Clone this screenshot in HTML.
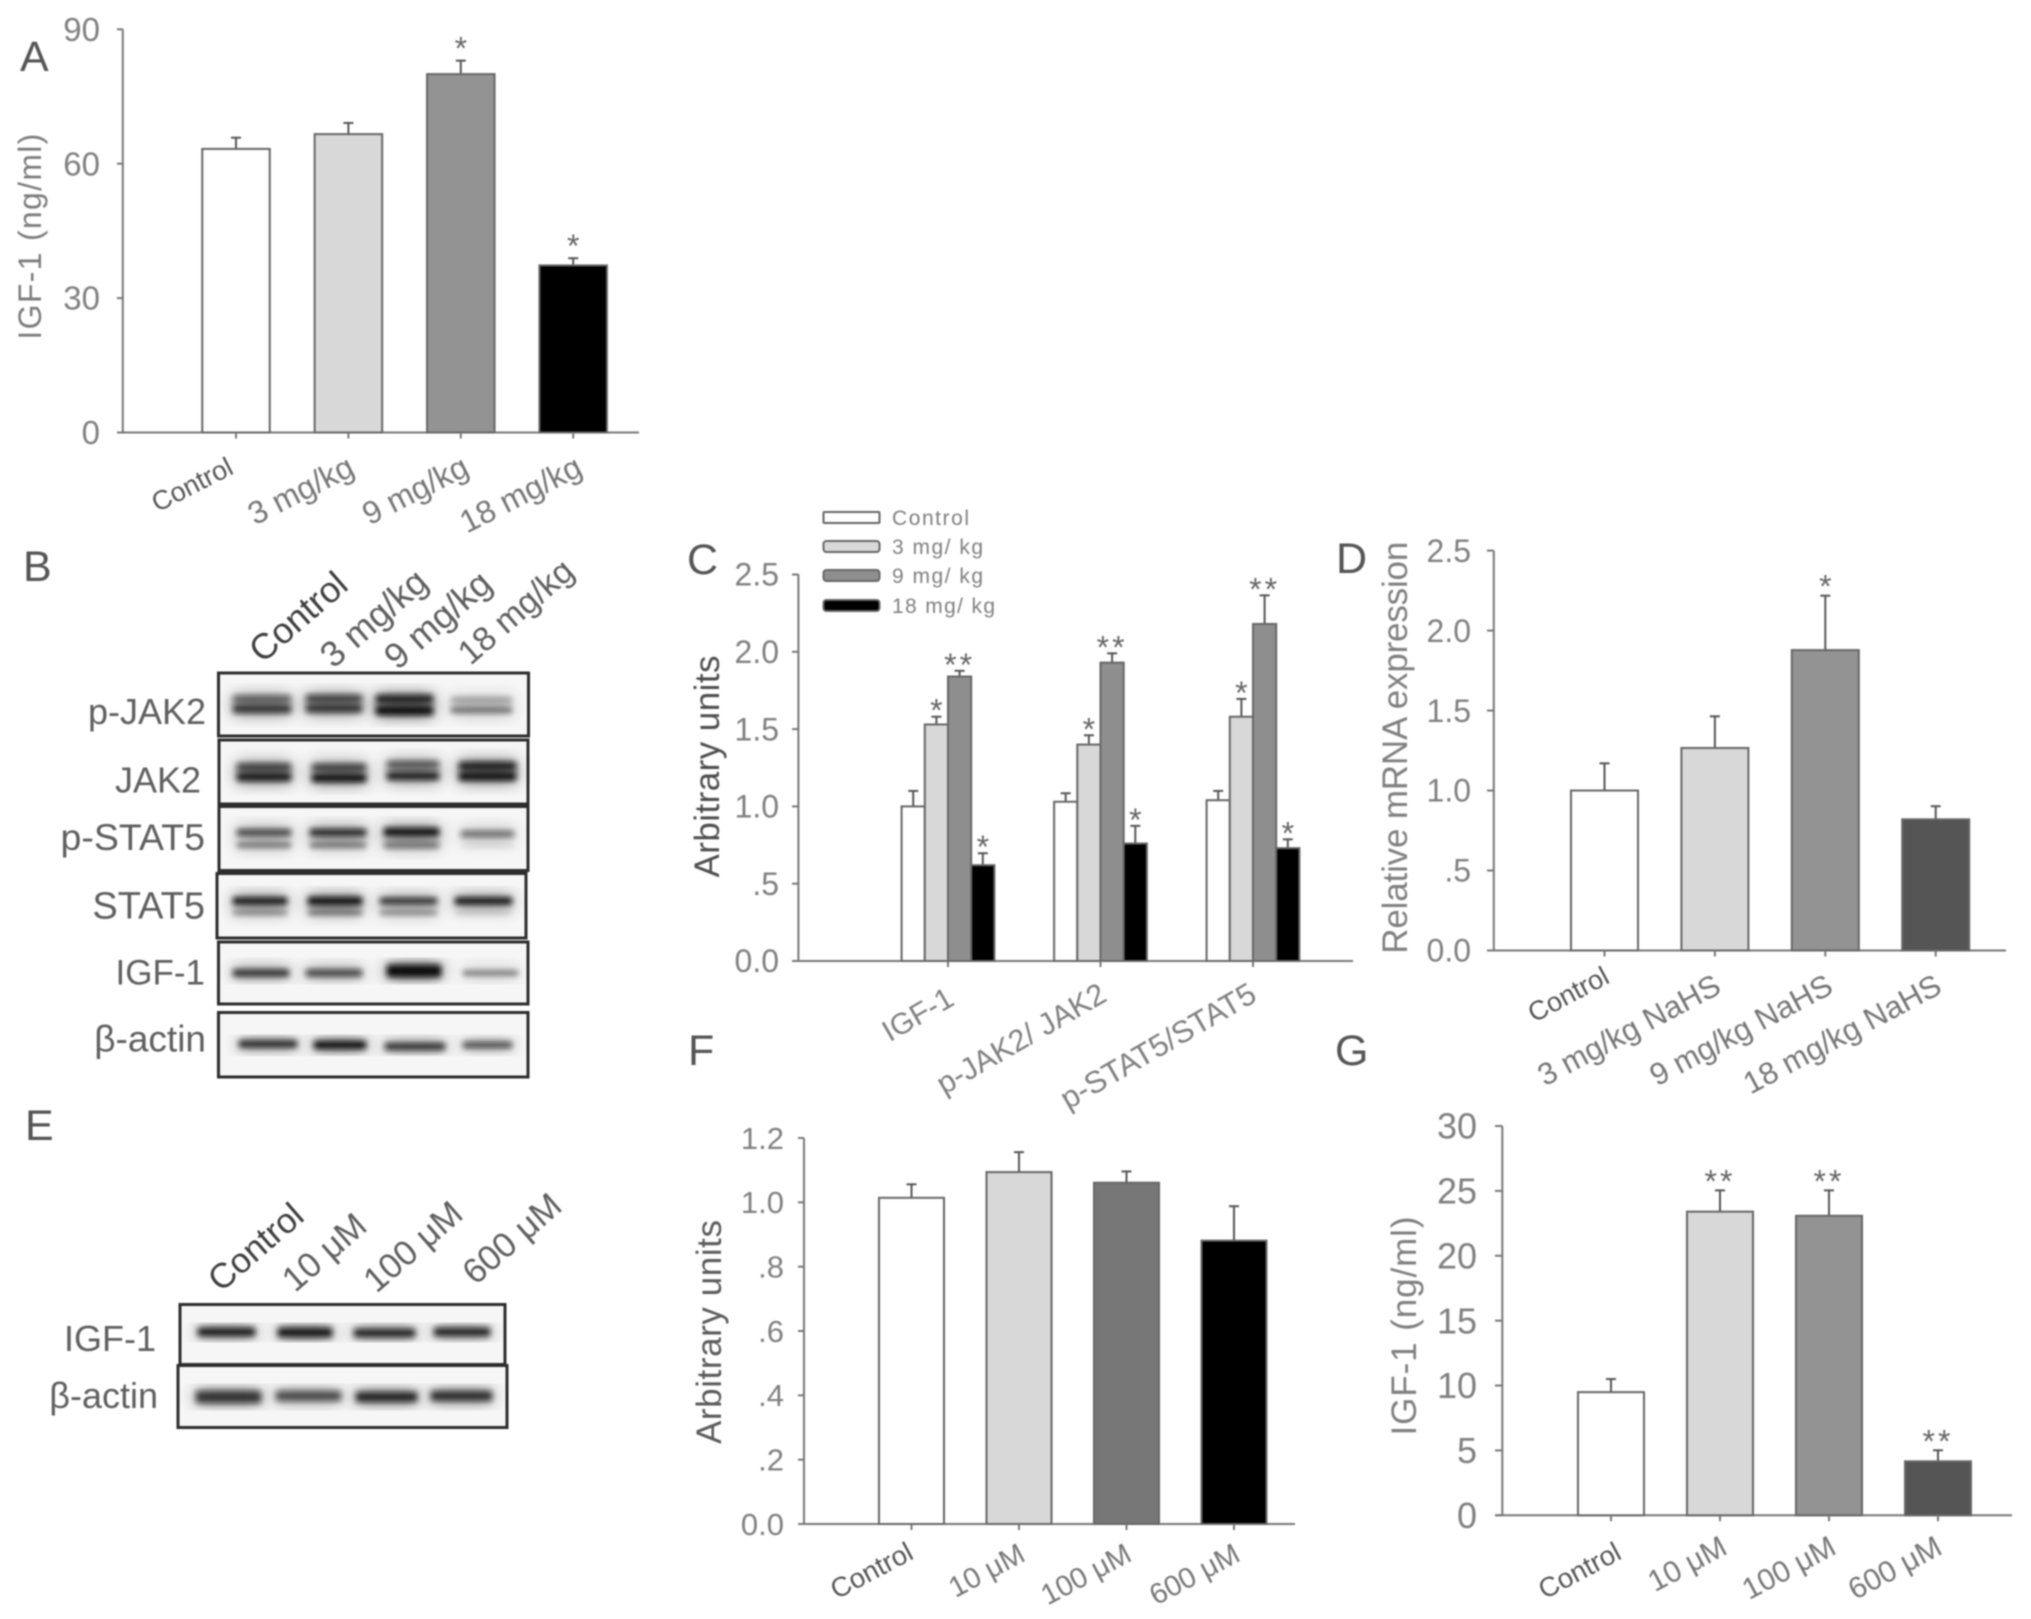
<!DOCTYPE html>
<html lang="en">
<head>
<meta charset="utf-8">
<title>IGF-1 and JAK2/STAT5 multi-panel figure</title>
<style>
html,body{margin:0;padding:0;background:#fff;}
#figure{display:block;width:2031px;height:1619px;font-family:"Liberation Sans",sans-serif;filter:blur(.8px);}
.letter{font-size:43px;fill:#555;}
.ttl{fill:#7d7d7d;}
.blot-label{font-size:36px;fill:#5f5f5f;}
.frame{fill:#f6f6f6;stroke:#2c2c2c;stroke-width:3;}
.legend-text{font-size:21px;fill:#808080;}
.legend-swatch{stroke:#666;stroke-width:2;}
.b{fill:#0c0c0c;}
</style>
</head>
<body>
<svg id="figure" xmlns="http://www.w3.org/2000/svg" width="2031" height="1619" viewBox="0 0 2031 1619">
<defs>
<filter id="band-blur" x="-20%" y="-60%" width="140%" height="220%">
<feGaussianBlur in="SourceGraphic" stdDeviation="8" result="wide"/>
<feComponentTransfer in="wide" result="halo"><feFuncA type="linear" slope=".8"/></feComponentTransfer>
<feGaussianBlur in="SourceGraphic" stdDeviation="3" result="core"/>
<feMerge><feMergeNode in="halo"/><feMergeNode in="core"/></feMerge>
</filter>
</defs>
<rect width="2031" height="1619" fill="#fff"/>

<text class="letter" x="20" y="71">A</text>
<text class="letter" x="23" y="581">B</text>
<text class="letter" x="687" y="574">C</text>
<text class="letter" x="1336" y="573">D</text>
<text class="letter" x="25" y="1140">E</text>
<text class="letter" x="688" y="1065">F</text>
<text class="letter" x="1335" y="1065">G</text>

<g id="panel-a">
<text class="ttl" font-size="32" text-anchor="middle" textLength="206" transform="translate(41 236.6) rotate(-90)">IGF-1  (ng/ml)</text>
</g>
<g id="panel-c">
<text class="ttl" style="fill:#4f4f4f" font-size="35" text-anchor="middle" textLength="222" transform="translate(719 766.5) rotate(-90)">Arbitrary units</text>
<g>
<rect class="legend-swatch" x="823.5" y="512" width="56" height="11" rx="1" fill="#fff"/>
<text class="legend-text" x="892" y="525" textLength="77">Control</text>
<rect class="legend-swatch" x="823.5" y="541" width="56" height="11" rx="3" fill="#d8d8d8"/>
<text class="legend-text" x="892" y="554" textLength="91">3 mg/ kg</text>
<rect class="legend-swatch" x="823.5" y="570" width="56" height="11" rx="3" fill="#8e8e8e"/>
<text class="legend-text" x="892" y="583" textLength="91">9 mg/ kg</text>
<rect class="legend-swatch" x="823.5" y="600" width="56" height="11" rx="3" fill="#000"/>
<text class="legend-text" x="892" y="613" textLength="103">18 mg/ kg</text>
</g>
</g>
<g id="panel-d">
<text class="ttl" style="fill:#808080" font-size="35" text-anchor="middle" textLength="412" transform="translate(1407 747.7) rotate(-90)">Relative mRNA expression</text>
</g>
<g id="panel-f">
<text class="ttl" style="fill:#5c5c5c" font-size="35" text-anchor="middle" textLength="224" transform="translate(721 1332) rotate(-90)">Arbitrary units</text>
</g>
<g id="panel-g">
<text class="ttl" style="fill:#808080" font-size="35" text-anchor="middle" textLength="219" transform="translate(1416 1326) rotate(-90)">IGF-1  (ng/ml)</text>
</g>

<g>
<text font-size="36" fill="#3f3f3f" text-anchor="end" transform="translate(350 588) rotate(-41)">Control</text>
<text font-size="36" fill="#5f5f5f" text-anchor="end" transform="translate(430 585.4) rotate(-41)">3 mg/kg</text>
<text font-size="36" fill="#5f5f5f" text-anchor="end" transform="translate(494 587) rotate(-41)">9 mg/kg</text>
<text font-size="34" fill="#5f5f5f" text-anchor="end" transform="translate(576 574.4) rotate(-41)">18 mg/kg</text>

<text class="blot-label" x="206" y="724" text-anchor="end">p-JAK2</text>
<text class="blot-label" x="201" y="792.5" text-anchor="end">JAK2</text>
<text class="blot-label" style="font-size:37.5px" x="205" y="850" text-anchor="end">p-STAT5</text>
<text class="blot-label" style="font-size:38px" x="205" y="918.6" text-anchor="end">STAT5</text>
<text class="blot-label" style="font-size:35px" x="205" y="984.6" text-anchor="end">IGF-1</text>
<text class="blot-label" style="font-size:37px" x="206" y="1051.4" text-anchor="end">β-actin</text>

<rect class="frame" x="218.5" y="673" width="310" height="63"/>
<rect class="frame" x="219" y="740" width="309" height="64"/>
<rect class="frame" x="219" y="806.5" width="309" height="64"/>
<rect class="frame" x="217" y="873.5" width="309" height="64.5"/>
<rect class="frame" x="218.5" y="942" width="309.5" height="62"/>
<rect class="frame" x="218.5" y="1012.5" width="309.5" height="64.5"/>

<g filter="url(#band-blur)">
<rect class="b" x="233" y="695.5" width="58" height="7" opacity=".6"/>
<rect class="b" x="233" y="705" width="58" height="8" opacity=".8"/>
<rect class="b" x="306" y="695" width="56" height="7" opacity=".75"/>
<rect class="b" x="306" y="704.5" width="56" height="8" opacity=".8"/>
<rect class="b" x="376" y="695" width="57" height="8" opacity=".9"/>
<rect class="b" x="376" y="706" width="57" height="9" opacity="1"/>
<rect class="b" x="451" y="697" width="61" height="6" opacity=".3"/>
<rect class="b" x="451" y="707" width="61" height="6" opacity=".5"/>
</g>
<g filter="url(#band-blur)">
<rect class="b" x="237" y="763.5" width="54" height="7" opacity=".75"/>
<rect class="b" x="237" y="773" width="54" height="8" opacity=".95"/>
<rect class="b" x="312" y="764" width="54" height="7" opacity=".75"/>
<rect class="b" x="312" y="774" width="54" height="8" opacity="1"/>
<rect class="b" x="387" y="761" width="52" height="7" opacity=".65"/>
<rect class="b" x="387" y="772" width="52" height="8" opacity=".9"/>
<rect class="b" x="459" y="762" width="57" height="8" opacity=".9"/>
<rect class="b" x="459" y="772.5" width="57" height="8" opacity="1"/>
</g>
<g filter="url(#band-blur)">
<rect class="b" x="237" y="829.5" width="54" height="6" opacity=".8"/>
<rect class="b" x="237" y="842" width="54" height="6" opacity=".45"/>
<rect class="b" x="310" y="829" width="56" height="7" opacity=".9"/>
<rect class="b" x="310" y="842" width="56" height="6" opacity=".45"/>
<rect class="b" x="384" y="828" width="55" height="8" opacity="1"/>
<rect class="b" x="384" y="842" width="55" height="6" opacity=".55"/>
<rect class="b" x="461" y="831" width="53" height="6" opacity=".6"/>
<rect class="b" x="461" y="843" width="53" height="5" opacity=".08"/>
</g>
<g filter="url(#band-blur)">
<rect class="b" x="233" y="897.5" width="54" height="7" opacity="1"/>
<rect class="b" x="233" y="910" width="54" height="5" opacity=".4"/>
<rect class="b" x="308" y="897" width="54" height="8" opacity="1"/>
<rect class="b" x="308" y="910" width="54" height="5" opacity=".5"/>
<rect class="b" x="380" y="898" width="57" height="6" opacity=".9"/>
<rect class="b" x="380" y="910" width="57" height="5" opacity=".4"/>
<rect class="b" x="455" y="897.5" width="57" height="7" opacity="1"/>
<rect class="b" x="455" y="910" width="57" height="5" opacity=".12"/>
</g>
<g filter="url(#band-blur)">
<rect class="b" x="233" y="969.5" width="56" height="7" opacity=".85"/>
<rect class="b" x="306" y="969.5" width="56" height="7" opacity=".75"/>
<rect class="b" x="387" y="965" width="54" height="12" opacity="1"/>
<rect class="b" x="463" y="970.5" width="55" height="5" opacity=".5"/>
</g>
<g filter="url(#band-blur)">
<rect class="b" x="239" y="1040.5" width="58" height="7" opacity=".9"/>
<rect class="b" x="314" y="1041" width="52" height="8" opacity="1"/>
<rect class="b" x="385" y="1043" width="60" height="7" opacity=".85"/>
<rect class="b" x="463" y="1042" width="49" height="6" opacity=".75"/>
</g>
</g>

<g>
<text font-size="35" fill="#3f3f3f" text-anchor="end" transform="translate(306 1219) rotate(-41)">Control</text>
<text font-size="35" fill="#5f5f5f" text-anchor="end" transform="translate(369 1229) rotate(-41)">10 μM</text>
<text font-size="35" fill="#5f5f5f" text-anchor="end" transform="translate(465 1217) rotate(-41)">100 μM</text>
<text font-size="35" fill="#5f5f5f" text-anchor="end" transform="translate(564 1209) rotate(-41)">600 μM</text>
<text class="blot-label" x="156" y="1351" text-anchor="end">IGF-1</text>
<text class="blot-label" x="158" y="1408" text-anchor="end">β-actin</text>
<rect class="frame" x="180" y="1304.5" width="325" height="60"/>
<rect class="frame" x="178" y="1365.5" width="329" height="62"/>
<g filter="url(#band-blur)">
<rect class="b" x="198" y="1328" width="57" height="8" opacity=".95"/>
<rect class="b" x="278" y="1328" width="54" height="9" opacity=".95"/>
<rect class="b" x="354" y="1329" width="61" height="8" opacity=".9"/>
<rect class="b" x="434" y="1328" width="56" height="8" opacity=".9"/>
</g>
<g filter="url(#band-blur)">
<rect class="b" x="196" y="1391" width="65" height="12" opacity=".75"/>
<rect class="b" x="276" y="1391" width="65" height="10" opacity=".65"/>
<rect class="b" x="356" y="1392" width="61" height="10" opacity=".85"/>
<rect class="b" x="431" y="1391" width="61" height="10" opacity=".8"/>
</g>
</g>
</svg>

<script>
// ---- Panel A data ----
const aCategories = ['Control', '3 mg/kg', '9 mg/kg', '18 mg/kg'];
const aValues = [63.3, 66.6, 80.0, 37.3];
const aErrorTops = [65.8, 69.1, 83.0, 38.9];
const aStars = ['', '', '*', '*'];
const aTickValues = [0, 30, 60, 90];
const aTickLabels = ['0', '30', '60', '90'];

// ---- Panel C data ----
const cCategories = ['IGF-1', 'p-JAK2/ JAK2', 'p-STAT5/STAT5'];
const cSeriesNames = ['Control', '3 mg/kg', '9 mg/kg', '18 mg/kg'];
const cControl = [1.00, 1.03, 1.04];
const c3mg = [1.53, 1.40, 1.58];
const c9mg = [1.84, 1.93, 2.18];
const c18mg = [0.62, 0.76, 0.73];
const cControlErrTops = [1.10, 1.085, 1.10];
const c3mgErrTops = [1.58, 1.46, 1.695];
const c9mgErrTops = [1.877, 1.99, 2.365];
const c18mgErrTops = [0.697, 0.874, 0.787];
const c3mgStars = ['*', '*', '*'];
const c9mgStars = ['**', '**', '**'];
const c18mgStars = ['*', '*', '*'];
const cTickValues = [0, 0.5, 1.0, 1.5, 2.0, 2.5];
const cTickLabels = ['0.0', '.5', '1.0', '1.5', '2.0', '2.5'];

// ---- Panel D data ----
const dCategories = ['Control', '3 mg/kg NaHS', '9 mg/kg NaHS', '18 mg/kg NaHS'];
const dValues = [1.00, 1.266, 1.878, 0.82];
const dErrorTops = [1.17, 1.464, 2.218, 0.902];
const dStars = ['', '', '*', ''];
const dTickValues = [0, 0.5, 1.0, 1.5, 2.0, 2.5];
const dTickLabels = ['0.0', '.5', '1.0', '1.5', '2.0', '2.5'];

// ---- Panel F data ----
const fCategories = ['Control', '10 μM', '100 μM', '600 μM'];
const fValues = [1.014, 1.094, 1.061, 0.881];
const fErrorTops = [1.056, 1.156, 1.096, 0.988];
const fStars = ['', '', '', ''];
const fTickValues = [0, 0.2, 0.4, 0.6, 0.8, 1.0, 1.2];
const fTickLabels = ['0.0', '.2', '.4', '.6', '.8', '1.0', '1.2'];

// ---- Panel G data ----
const gCategories = ['Control', '10 μM', '100 μM', '600 μM'];
const gValues = [9.49, 23.4, 23.08, 4.16];
const gErrorTops = [10.5, 25.04, 25.04, 5.01];
const gStars = ['', '**', '**', '**'];
const gTickValues = [0, 5, 10, 15, 20, 25, 30];
const gTickLabels = ['0', '5', '10', '15', '20', '25', '30'];

const SVG_NS = 'http://www.w3.org/2000/svg';
function el(parent, tag, attrs, text) {
  const n = document.createElementNS(SVG_NS, tag);
  for (const k in attrs) n.setAttribute(k, attrs[k]);
  if (text !== undefined) n.textContent = text;
  parent.appendChild(n);
  return n;
}
const AXIS = '#777';

function drawAxes(g, L, tickValues, tickLabels) {
  const y = v => L.baseY - v * (L.baseY - L.topY) / L.yMax;
  const yLine = el(g, 'line', {x1: L.axisX, x2: L.axisX, y1: L.topY, y2: L.baseY, stroke: AXIS, 'stroke-width': 2});
  
  
  const xLine = el(g, 'line', {x1: L.tickLeft, x2: L.xEnd, y1: L.baseY, y2: L.baseY, stroke: AXIS, 'stroke-width': 2});
  
  
  tickValues.forEach((v, i) => {
    const t = el(g, 'line', {x1: L.tickLeft, x2: L.axisX, y1: y(v), y2: y(v), stroke: AXIS, 'stroke-width': 2});
    
    
    const lb = el(g, 'text', {x: L.labelRight, y: y(v) + L.tickFont * 0.35, 'text-anchor': 'end', 'font-size': L.tickFont, fill: L.tickColor || '#808080'}, tickLabels[i]);
    
    
  });
  return y;
}

function drawStar(g, x, topPx, gap, s) {
  if (!s) return;
  const st = el(g, 'text', {x: x, y: topPx - gap + 18, 'text-anchor': 'middle', 'font-size': 32, fill: '#666', 'letter-spacing': s.length > 1 ? 3 : 0}, s);
  
  
}

function drawBar(g, name, cx, w, y, L, value, errTop, fill, star, gap) {
  const err = el(g, 'line', {x1: cx, x2: cx, y1: y(value), y2: y(errTop), stroke: '#555', 'stroke-width': 2});
  
  
  const cap = el(g, 'line', {x1: cx - 5, x2: cx + 5, y1: y(errTop), y2: y(errTop), stroke: '#555', 'stroke-width': 2});
  
  
  const bar = el(g, 'rect', {x: cx - w / 2, y: y(value), width: w, height: L.baseY - y(value), fill: fill, stroke: '#666', 'stroke-width': 2});
  
  
  drawStar(g, cx, y(errTop), gap, star);
}

function drawXLabels(g, L, cats) {
  cats.forEach((c, i) => {
    const tx = L.x0 + i * L.step;
    const t = el(g, 'line', {x1: tx, x2: tx, y1: L.baseY, y2: L.baseY + 6, stroke: AXIS, 'stroke-width': 2});
    
    
    const fs = L.fonts[i];
    const lb = el(g, 'text', {'text-anchor': 'end', 'font-size': fs, fill: L.colors[i],
      transform: 'translate(' + (tx + L.labelDx[i]) + ' ' + L.labelY[i] + ') rotate(' + L.angle + ')'}, c);
    
    
  });
}

function drawSimple(id, L, cats, values, errs, stars, tickV, tickL) {
  const g = document.getElementById(id);
  const y = drawAxes(g, L, tickV, tickL);
  cats.forEach((c, i) => {
    drawBar(g, c.replace(/\s+/g, '-').toLowerCase(), L.x0 + i * L.step, L.barW, y, L, values[i], errs[i], L.fills[i], stars[i], L.starGap);
  });
  drawXLabels(g, L, cats);
}

drawSimple('panel-a', {axisX: 122.8, baseY: 432.5, topY: 29.3, yMax: 90, xEnd: 639, tickLeft: 117, labelRight: 100, tickFont: 33,
  x0: 236, step: 112.4, barW: 67.5, fills: ['#fff', '#d8d8d8', '#939393', '#000'], starGap: 19,
  labelDx: [-1, 8, 10, 11], labelY: [473, 474, 474, 474], fonts: [27, 32, 32, 32], colors: ['#555', '#777', '#777', '#777'], angle: -27},
  aCategories, aValues, aErrorTops, aStars, aTickValues, aTickLabels);

drawSimple('panel-d', {axisX: 1493.8, baseY: 950.5, topY: 550.6, yMax: 2.5, xEnd: 2006, tickLeft: 1487, labelRight: 1471, tickFont: 32,
  x0: 1604.5, step: 110.4, barW: 67, fills: ['#fff', '#d8d8d8', '#939393', '#555'], starGap: 16,
  labelDx: [6.5, 8, 9.6, 8], labelY: [982, 992, 992, 992], fonts: [27, 31, 31, 31], colors: ['#555', '#777', '#777', '#777'], angle: -28},
  dCategories, dValues, dErrorTops, dStars, dTickValues, dTickLabels);

drawSimple('panel-f', {axisX: 804, baseY: 1524, topY: 1138, yMax: 1.2, xEnd: 1295, tickLeft: 798, labelRight: 784, tickFont: 31,
  x0: 911.5, step: 107.5, barW: 65, fills: ['#fff', '#d8d8d8', '#777', '#000'], starGap: 14,
  labelDx: [3.5, 8, 7, 8], labelY: [1558, 1560, 1560, 1560], fonts: [27.5, 29, 29, 29], colors: ['#555', '#777', '#777', '#777'], angle: -28},
  fCategories, fValues, fErrorTops, fStars, fTickValues, fTickLabels);

drawSimple('panel-g', {axisX: 1502.3, baseY: 1515.3, topY: 1126, yMax: 30, xEnd: 2012, tickLeft: 1495, labelRight: 1477, tickFont: 36,
  x0: 1611, step: 109, barW: 66, fills: ['#fff', '#d8d8d8', '#939393', '#555'], starGap: 16,
  labelDx: [12, 9, 9, 6], labelY: [1558, 1553, 1553, 1553], fonts: [27.5, 30, 30, 30], colors: ['#555', '#777', '#777', '#777'], angle: -28},
  gCategories, gValues, gErrorTops, gStars, gTickValues, gTickLabels);

// Grouped panel C
(function () {
  const L = {axisX: 798.4, baseY: 961, topY: 574.5, yMax: 2.5, xEnd: 1353, tickLeft: 792, labelRight: 779, tickFont: 32,
    x0: 948, step: 152.5, barW: 23.2, fonts: [30, 30.5, 31], colors: ['#808080', '#808080', '#808080'],
    labelDx: [8, 8, 5.5], labelY: [1004, 1000, 1000], angle: -30};
  const g = document.getElementById('panel-c');
  const y = drawAxes(g, L, cTickValues, cTickLabels);
  const series = [cControl, c3mg, c9mg, c18mg];
  const errs = [cControlErrTops, c3mgErrTops, c9mgErrTops, c18mgErrTops];
  const stars = [[], c3mgStars, c9mgStars, c18mgStars];
  const fills = ['#fff', '#d8d8d8', '#8e8e8e', '#000'];
  cCategories.forEach((c, i) => {
    series.forEach((vals, s) => {
      const cx = L.x0 + i * L.step + (s - 1.5) * L.barW;
      const name = c.replace(/[\s\/]+/g, '-').toLowerCase() + '-' + cSeriesNames[s].replace(/\s+/g, '-').toLowerCase();
      drawBar(g, name, cx, L.barW, y, L, vals[i], errs[s][i], fills[s], stars[s][i], 13);
    });
  });
  drawXLabels(g, L, cCategories);
})();
</script>
</body>
</html>
